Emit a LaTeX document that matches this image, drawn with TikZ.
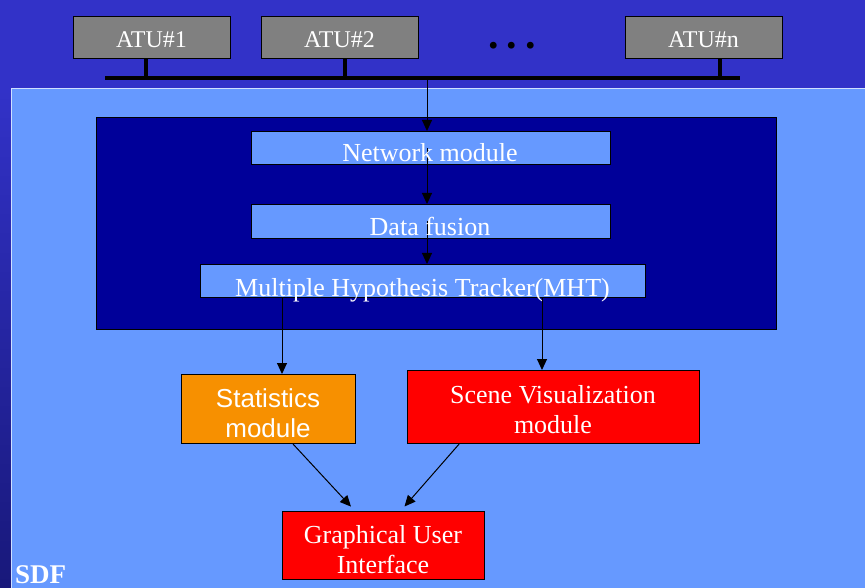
\documentclass[tikz,border=0pt]{standalone}
\usepackage{fontspec}
\setmainfont{Liberation Serif}
\setsansfont{Liberation Sans}
\usetikzlibrary{arrows.meta,calc}
\definecolor{bgblue}{HTML}{3232C8}
\definecolor{bgdark}{HTML}{18187A}
\definecolor{panelblue}{HTML}{6699FF}
\definecolor{navy}{HTML}{000099}
\definecolor{atugray}{HTML}{808080}
\definecolor{statorange}{HTML}{F79000}
\definecolor{modred}{HTML}{FF0000}
\definecolor{paneledge}{HTML}{D0E0FF}
\begin{document}
\begin{tikzpicture}[x=1pt,y=-1pt,
  atubox/.style={draw=black, line width=1.2pt, fill=atugray, minimum width=157pt, minimum height=42pt, anchor=north west, inner sep=0pt},
  modbox/.style={draw=black, line width=1pt, fill=panelblue, anchor=north west, inner sep=0pt},
  colbox/.style={draw=black, line width=1pt, anchor=north west, inner sep=0pt},
  txt/.style={text=white, font=\fontsize{26}{30}\selectfont, inner sep=0pt, anchor=base},
  atutxt/.style={txt, font=\fontsize{24}{28}\selectfont},
  arr/.style={draw=black, line width=1pt, -{Triangle[length=11pt,width=10pt]}},
  stem/.style={draw=black, line width=3.5pt}
]
\useasboundingbox (0,0) rectangle (865,588);
% background
\fill[bgblue] (0,0) rectangle (865,588);
\shade[top color=bgblue, bottom color=bgdark] (0,89) rectangle (11,588);
\fill[panelblue] (11,89) rectangle (865,588);
\draw[paneledge, line width=1pt] (11,588) -- (11,89) -- (865,89);

% ATUs
\node[atubox] (atu1) at (73,16) {};
\node[atubox] (atu2) at (261,16) {};
\node[atubox] (atun) at (625,16) {};
\node[atutxt] (atu1t) at (151.5,48) {ATU\#1};
\node[atutxt] (atu2t) at (339.5,48) {ATU\#2};
\node[atutxt] (atunt) at (703.5,48) {ATU\#n};
\node[txt, text=black, font=\bfseries\fontsize{42}{46}\selectfont] (dots) at (512,49) {.\hspace{8pt}.\hspace{8pt}.};

% bus
\coordinate (busL) at (105,78);
\coordinate (busR) at (740,78);
\coordinate (s1) at (146,78);
\coordinate (s2) at (345,78);
\coordinate (sn) at (720,78);
\coordinate (tap) at (427,78);
\draw[stem] (s1 |- atu1.south) -- (s1);
\draw[stem] (s2 |- atu2.south) -- (s2);
\draw[stem] (sn |- atun.south) -- (sn);
\draw[black, line width=4pt] (busL) -- (busR);

% SDF inner box
\node[colbox, fill=navy, minimum width=680pt, minimum height=212pt] (sdfbox) at (96,117) {};
\node[modbox, minimum width=359pt, minimum height=33pt] (net) at (251,131) {};
\node[modbox, minimum width=359pt, minimum height=34pt] (fus) at (251,204) {};
\node[modbox, minimum width=445pt, minimum height=33pt] (mht) at (200,264) {};

% arrows inside
\draw[arr] (tap) -- (tap |- net.north);
\draw[arr] (tap |- net.center) -- (tap |- fus.north);
\draw[arr] (tap |- fus.center) -- (tap |- mht.north);

\node[txt] (nett) at (430,162) {Network module};
\node[txt] (fust) at (430,236) {Data fusion};
\node[txt] (mhtt) at (422.5,296) {Multiple Hypothesis Tracker(MHT)};

% lower modules
\node[colbox, fill=statorange, minimum width=174pt, minimum height=69pt] (stat) at (181,374) {};
\node[colbox, fill=modred, minimum width=292pt, minimum height=73pt] (scene) at (407,370) {};
\node[colbox, fill=modred, minimum width=202pt, minimum height=68pt] (gui) at (282,511) {};

\coordinate (c1) at (282,0);
\coordinate (c2) at (542,0);
\draw[arr] (mht.south -| c1) -- (stat.north -| c1);
\draw[arr] (mht.south -| c2) -- (scene.north -| c2);

\draw[arr, shorten >=6pt] ($(stat.south west)!0.64!(stat.south east)$) -- ($(gui.north west)!0.36!(gui.north east)$);
\draw[arr, shorten >=6pt] ($(scene.south west)!0.178!(scene.south east)$) -- ($(gui.north west)!0.584!(gui.north east)$);

\node[txt, font=\sffamily\fontsize{26}{30}\selectfont] (stat1) at (268,407) {Statistics};
\node[txt, font=\sffamily\fontsize{26}{30}\selectfont] (stat2) at (268,437) {module};
\node[txt] (scene1) at (553,403) {Scene Visualization};
\node[txt] (scene2) at (553,433) {module};
\node[txt] (gui1) at (383,543) {Graphical User};
\node[txt] (gui2) at (383,573) {Interface};

\node[txt, anchor=base west, font=\bfseries\fontsize{27}{30}\selectfont] (sdf) at (15,583) {SDF};
\end{tikzpicture}
\end{document}
